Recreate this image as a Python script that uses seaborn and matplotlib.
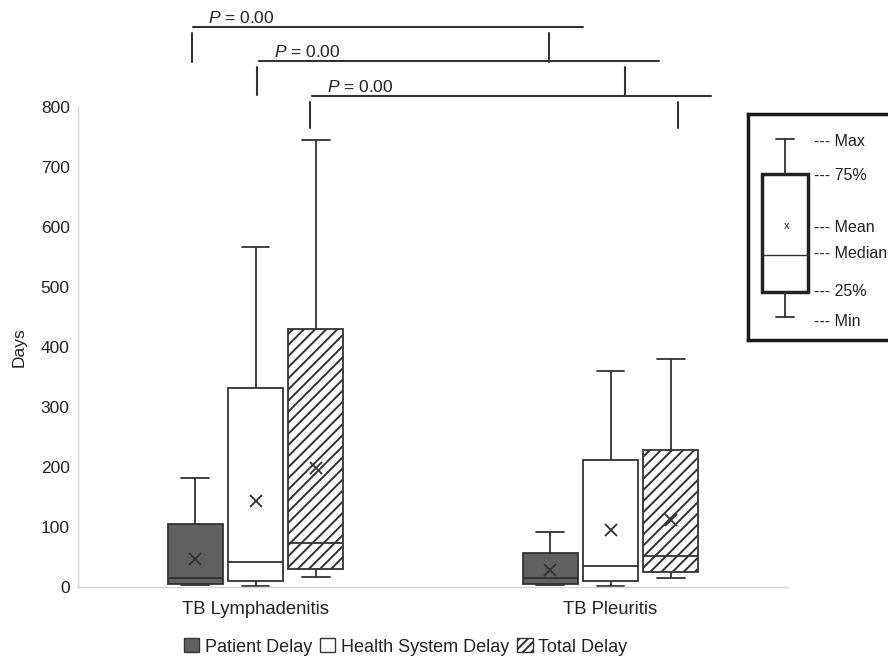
import matplotlib
matplotlib.use("Agg")
import matplotlib.pyplot as plt
from matplotlib.patches import Patch, Rectangle
import numpy as np
import pandas as pd
import seaborn as sns

# --- data (days) ---
sites = ["TB Lymphadenitis", "TB Pleuritis"]
delays = ["Patient Delay", "Health System Delay", "Total Delay"]

# rows = site, columns = delay type
d_min = [[3, 2, 16], [3, 2, 15]]
d_q1 = [[5, 10, 30], [5, 10, 25]]
d_median = [[15, 42, 73], [15, 35, 51]]
d_q3 = [[105, 331, 430], [57, 212, 228]]
d_max = [[181, 566, 745], [92, 360, 380]]
d_mean = [[47, 144, 198], [28, 95, 111]]

p_labels = ["0.00", "0.00", "0.00"]
yticks = [0, 100, 200, 300, 400, 500, 600, 700, 800]
key_labels = ["Max", "75%", "Mean", "Median", "25%", "Min"]

# --- style ---
LINE = "#333333"
TEXT = "#222222"
box_colors = {"Patient Delay": "#606060", "Health System Delay": "white", "Total Delay": "white"}

sns.set_style("white")
plt.rcParams["font.family"] = ["Liberation Sans", "DejaVu Sans"]
plt.rcParams["mathtext.fontset"] = "custom"
plt.rcParams["mathtext.it"] = "Liberation Sans:italic"
plt.rcParams["mathtext.rm"] = "Liberation Sans"
plt.rcParams["hatch.color"] = "#4a4a4a"
plt.rcParams["hatch.linewidth"] = 1.4

# five-number summaries as samples so seaborn computes the same box stats
rows = []
for i, site in enumerate(sites):
    for j, delay in enumerate(delays):
        for v in (d_min[i][j], d_q1[i][j], d_median[i][j], d_q3[i][j], d_max[i][j]):
            rows.append((site, delay, v))
df = pd.DataFrame(rows, columns=["site", "delay", "days"])

mean_df = pd.DataFrame(
    [(site, delay, d_mean[i][j]) for i, site in enumerate(sites) for j, delay in enumerate(delays)],
    columns=["site", "delay", "days"],
)

fig = plt.figure(figsize=(8.88, 6.56), dpi=100)
ax = fig.add_axes([78 / 888, 69 / 656, 710 / 888, 480 / 656])

sns.boxplot(data=df, x="site", y="days", hue="delay", order=sites, hue_order=delays,
            palette=box_colors, saturation=1, width=0.51, gap=0.09, whis=(0, 100),
            linecolor=LINE, linewidth=1.3, showfliers=False, legend=False, ax=ax)

# hatch the "Total Delay" boxes
for patch in ax.patches:
    xs = patch.get_path().vertices[:, 0]
    cx = (xs.min() + xs.max()) / 2
    if cx - round(cx) > 0.08:
        patch.set_hatch("///")

sns.pointplot(data=mean_df, x="site", y="days", hue="delay", order=sites, hue_order=delays,
              palette=[LINE] * 3, dodge=0.34, markers="x", linestyle="none", errorbar=None,
              markersize=9, markeredgewidth=1.3, legend=False, ax=ax)

ax.set_xlim(-0.5, 1.5)
ax.set_ylim(0, 800)
ax.set_yticks(yticks)
ax.set_xlabel("")
ax.set_ylabel("Days", fontsize=12.5, color=TEXT)
ax.yaxis.set_label_coords(-0.072, 0.5)
ax.tick_params(axis="y", length=0, pad=6, labelsize=12.5, labelcolor=TEXT)
ax.tick_params(axis="x", length=0, pad=10, labelsize=13.3, labelcolor=TEXT)
sns.despine(ax=ax)
for side in ("left", "bottom"):
    ax.spines[side].set_color("#d6d6d6")
    ax.spines[side].set_linewidth(1.0)

# significance brackets above the plot
br_y = [933, 877, 819]
br_x0 = [-0.177, 0.010, 0.159]
br_x1 = [0.923, 1.137, 1.284]
tick_lx = [-0.180, 0.004, 0.154]
tick_rx = [0.828, 1.042, 1.189]
tick_top = [923, 866, 808]
tick_bot = [875, 820, 765]
txt_x = [-0.134, 0.052, 0.202]
txt_y = [949, 892, 834]
for k in range(3):
    ax.plot([br_x0[k], br_x1[k]], [br_y[k], br_y[k]], color=LINE, lw=1.5, clip_on=False)
    for tx in (tick_lx[k], tick_rx[k]):
        ax.plot([tx, tx], [tick_top[k], tick_bot[k]], color=LINE, lw=1.5, clip_on=False)
    ax.text(txt_x[k], txt_y[k], r"$P$ = " + p_labels[k], fontsize=12.5, color=TEXT,
            ha="left", va="center", clip_on=False)

# bottom legend
handles = [
    Patch(facecolor=box_colors["Patient Delay"], edgecolor=LINE, linewidth=1.0),
    Patch(facecolor="white", edgecolor=LINE, linewidth=1.0),
    Patch(facecolor="white", edgecolor=LINE, linewidth=1.0, hatch="////"),
]
fig.legend(handles, delays, loc="center", bbox_to_anchor=(0.4566, 0.014), ncol=3,
           frameon=False, fontsize=13, handlelength=0.85, handleheight=0.85,
           handletextpad=0.3, columnspacing=0.45, labelcolor=TEXT)

# explanatory key on the right (schematic box)
key = fig.add_axes([748 / 888, (656 - 340) / 656, 160 / 888, 226 / 656])
key.set_xlim(748, 908)
key.set_ylim(340, 114)
key.set_xticks([])
key.set_yticks([])
for sp in key.spines.values():
    sp.set_linewidth(2.5)
    sp.set_color("#1a1a1a")
key.add_patch(Rectangle((762, 174), 46, 118, facecolor="white", edgecolor="#222222", lw=2.5))
key.plot([785, 785], [139, 174], color=LINE, lw=1.3)
key.plot([785, 785], [292, 317], color=LINE, lw=1.3)
key.plot([776, 794], [139, 139], color=LINE, lw=1.3)
key.plot([776, 794], [317, 317], color=LINE, lw=1.3)
key.plot([762, 808], [255, 255], color=LINE, lw=1.0)
key.text(787, 226, "x", fontsize=8, ha="center", va="center", color=TEXT)
key_y = [141, 176, 228, 253, 291, 321]
for lab, yy in zip(key_labels, key_y):
    key.text(814, yy, "--- " + lab, fontsize=11.5, ha="left", va="center", color=TEXT)

fig.savefig("out.png", dpi=100)
